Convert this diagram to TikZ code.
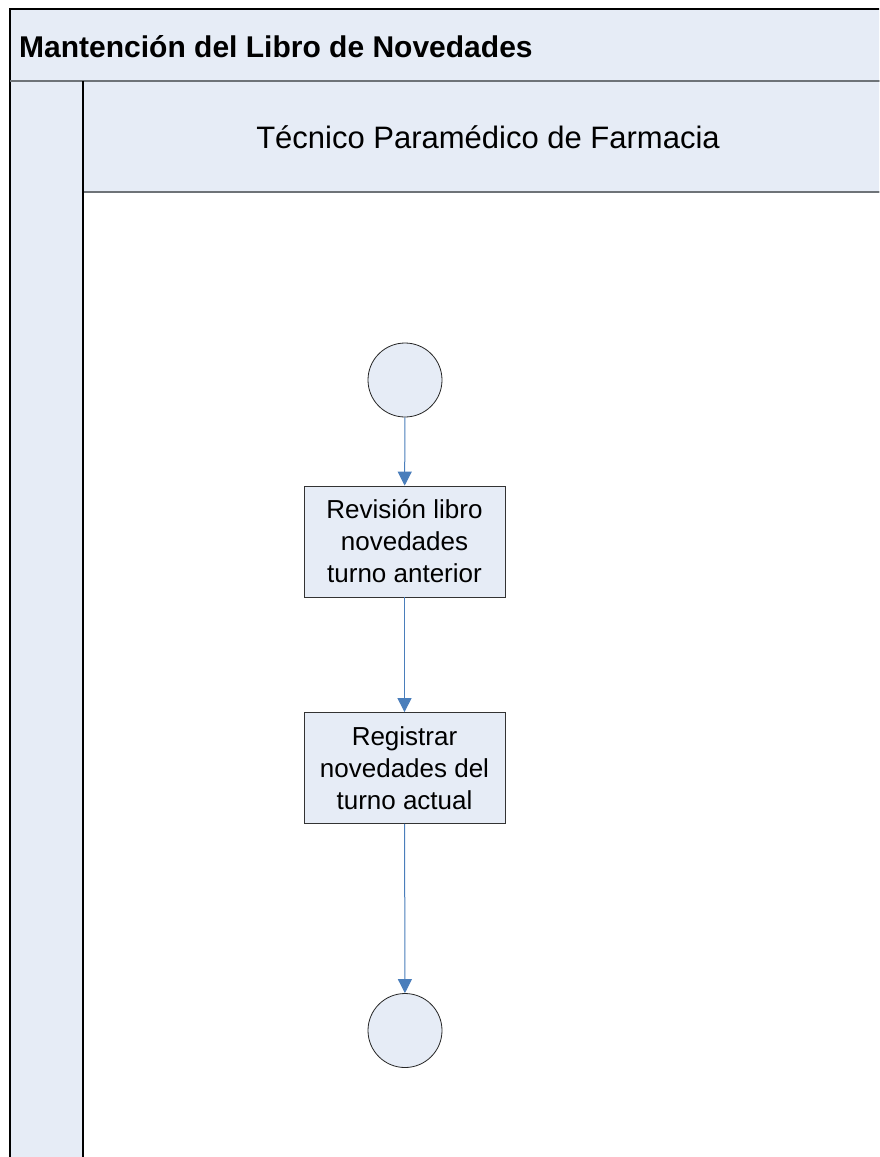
\documentclass[tikz,border=0pt]{standalone}
\usepackage{fontspec}
\setmainfont{Liberation Sans}
\usetikzlibrary{arrows.meta}
\definecolor{lanefill}{HTML}{E6ECF6}
\definecolor{flowblue}{HTML}{4A7EBB}
\definecolor{sepgray}{HTML}{6E7378}
\begin{document}
\begin{tikzpicture}[x=1pt,y=-1pt,
  lane/.style={fill=lanefill,draw=black,line width=1.2pt},
  stepbox/.style={draw=black!80,fill=lanefill,line width=0.8pt,minimum width=201pt,minimum height=111pt,align=center,font=\fontsize{26}{32}\selectfont,inner sep=2pt},
  terminal/.style={circle,draw=black!85,fill=lanefill,line width=0.8pt,minimum size=74pt,inner sep=0pt},
  flow/.style={draw=flowblue,line width=1pt,-{Triangle[length=14pt,width=14pt]}}]
\useasboundingbox (0,0) rectangle (879,1157);
\clip (0,0) rectangle (879,1157);
\fill[white] (0,0) rectangle (879,1157);
% pool frame: title band, lane header, side column
\draw[lane] (10,9) rectangle (900,81);
\draw[lane] (10,81) rectangle (83,1180);
\draw[lane] (83,81) rectangle (900,192);
\draw[sepgray,line width=2.5pt] (10,81) -- (900,81);
\draw[sepgray,line width=2pt] (84,192) -- (900,192);
\draw[black,line width=1.4pt] (83,81) -- (83,1180);
\node[anchor=west,font=\bfseries\fontsize{30}{34}\selectfont,inner sep=0pt] (title) at (19,47) {Mantención del Libro de Novedades};
\node[font=\fontsize{31}{36}\selectfont] (role) at (488,137) {Técnico Paramédico de Farmacia};
% activity flow
\node[terminal] (start) at (405,380) {};
\node[stepbox] (s1) at (404.5,541.5) {Revisión libro\\novedades\\turno anterior};
\node[stepbox] (s2) at (404.5,768) {Registrar\\novedades del\\turno actual};
\node[terminal] (end) at (405,1030.5) {};
\draw[flow] (start) -- (s1);
\draw[flow] (s1) -- (s2);
\draw[flow] (s2) -- (end);
\end{tikzpicture}
\end{document}
